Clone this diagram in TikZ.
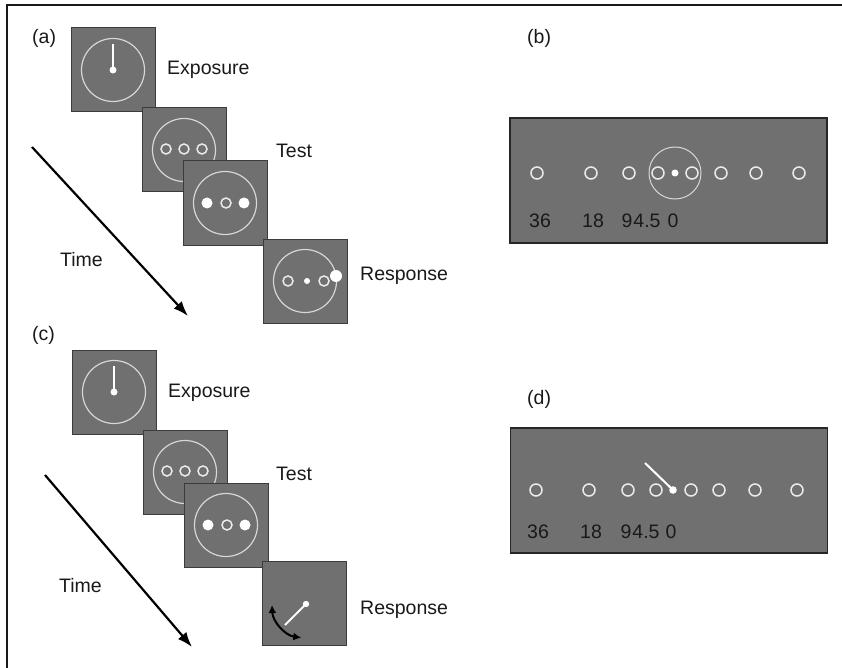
\documentclass[tikz,border=0pt]{standalone}
\usepackage{fontspec}
\setmainfont{Liberation Sans}
\usetikzlibrary{arrows.meta,calc}
\definecolor{scr}{RGB}{112,112,112}
\definecolor{scrborder}{RGB}{60,60,60}
\definecolor{ringc}{RGB}{215,215,215}
\definecolor{dotc}{RGB}{235,235,235}
\definecolor{framec}{RGB}{25,25,25}
\tikzset{
  screen/.style={fill=scr,draw=scrborder,line width=1pt,minimum size=84pt,inner sep=0pt,outer sep=0pt},
  wide/.style={fill=scr,draw=black!85,line width=1.6pt,minimum width=317pt,minimum height=125pt,inner sep=0pt},
  ring/.style={draw=ringc,line width=1.2pt},
  odot/.style={draw=dotc,line width=1.5pt},
  fdot/.style={fill=white},
  needle/.style={draw=white,line width=2pt},
  lbl/.style={font=\fontsize{19.5pt}{23pt}\selectfont,inner sep=0pt,anchor=base west,text=black!90},
  timearrow/.style={draw=black,line width=2.2pt,-{Latex[length=15pt,width=11pt]}},
  turnarrow/.style={draw=black,line width=2pt,{Latex[length=8pt,width=8pt]}-{Latex[length=8pt,width=8pt]}},
  framel/.style={draw=framec,line width=2.6pt}
}
\begin{document}
\begin{tikzpicture}[x=1pt,y=-1pt]
\useasboundingbox (0,0) rectangle (842,668);
% frame
\coordinate (f1) at (7,668);
\coordinate (f2) at (7,5);
\coordinate (f3) at (842,5);
\draw[framel] (f1) -- (f2) -- (f3);

% ---------- panel (a)
\node[lbl] (la) at (32,44) {(a)};
\node[screen] (a1) at (113,70) {};
\draw[ring] (a1.center) circle[radius=31.5pt];
\coordinate (a1n) at (113,44);
\draw[needle] (a1.center) -- (a1n);
\fill[fdot] (a1.center) circle[radius=3.5pt];
\node[lbl] (tEa) at (167,75) {Exposure};

\node[screen] (a2) at (184,150) {};
\draw[ring] (a2.center) circle[radius=31.5pt];
\foreach \d in {-18,0,18}{\draw[odot] ($(a2.center)+(\d,-1)$) circle[radius=5pt];}
\node[lbl] (tTa) at (276,158) {Test};

\node[screen] (a3) at (225,203) {};
\draw[ring] (a3.center) circle[radius=31.5pt];
\fill[fdot] ($(a3.center)+(-18,0)$) circle[radius=5.5pt];
\fill[fdot] ($(a3.center)+(19,0)$) circle[radius=5.5pt];
\draw[odot] ($(a3.center)+(1,0)$) circle[radius=5pt];

\node[screen] (a4) at (305,281) {};
\draw[ring] (a4.center) circle[radius=31.5pt];
\draw[odot] ($(a4.center)+(-17,0)$) circle[radius=5pt];
\draw[odot] ($(a4.center)+(19,0)$) circle[radius=5pt];
\fill[fdot] ($(a4.center)+(2,0)$) circle[radius=3pt];
\fill[fdot] ($(a4.center)+(31,-5)$) circle[radius=6pt];
\node[lbl] (tRa) at (360,280) {Response};

\coordinate (ta1) at (32,147);
\coordinate (ta2) at (188,316);
\draw[timearrow] (ta1) -- (ta2);
\node[lbl] (tTimea) at (60,266) {Time};

% ---------- panel (c)
\node[lbl] (lc) at (32,340) {(c)};
\node[screen] (c1) at (114,392) {};
\draw[ring] (c1.center) circle[radius=31.5pt];
\coordinate (c1n) at (114,366);
\draw[needle] (c1.center) -- (c1n);
\fill[fdot] (c1.center) circle[radius=3.5pt];
\node[lbl] (tEc) at (168,397) {Exposure};

\node[screen] (c2) at (185,472) {};
\draw[ring] (c2.center) circle[radius=31.5pt];
\foreach \d in {-18,0,18}{\draw[odot] ($(c2.center)+(\d,-1)$) circle[radius=5pt];}
\node[lbl] (tTc) at (276,480) {Test};

\node[screen] (c3) at (226,525) {};
\draw[ring] (c3.center) circle[radius=31.5pt];
\fill[fdot] ($(c3.center)+(-18,0)$) circle[radius=5.5pt];
\fill[fdot] ($(c3.center)+(19,0)$) circle[radius=5.5pt];
\draw[odot] ($(c3.center)+(1,0)$) circle[radius=5pt];

\node[screen] (c4) at (304,603) {};
\coordinate (cp) at (306,604);
\coordinate (cpe) at (285,625);
\draw[needle] (cp) -- (cpe);
\fill[fdot] (cp) circle[radius=3.2pt];
\coordinate (r1) at (272,605);
\coordinate (r2) at (301.3,637.7);
\coordinate (rc1) at (272.6,621.5);
\coordinate (rc2) at (285,635.4);
\draw[turnarrow] (r1) .. controls (rc1) and (rc2) .. (r2);
\node[lbl] (tRc) at (360,614) {Response};

\coordinate (tc1) at (45,475);
\coordinate (tc2) at (192,647);
\draw[timearrow] (tc1) -- (tc2);
\node[lbl] (tTimec) at (59,592) {Time};

% ---------- panel (b)
\node[lbl] (lb) at (527,44) {(b)};
\node[wide] (pb) at (668.5,180.5) {};
\foreach \x in {537,591,629,658,692,721,756,799}{\draw[odot] (\x,173) circle[radius=6pt];}
\draw[ring,line width=1pt] (675,173) circle[radius=26pt];
\fill[fdot] (675,173) circle[radius=3.5pt];
\node[lbl,anchor=base] (b36) at (540,228) {36};
\node[lbl,anchor=base] (b18) at (593,228) {18};
\node[lbl,anchor=base] (b9) at (627,228) {9};
\node[lbl,anchor=base] (b45) at (647,228) {4.5};
\node[lbl,anchor=base] (b0) at (673,228) {0};

% ---------- panel (d)
\node[lbl] (ld) at (527,404) {(d)};
\node[wide] (pd) at (669,490.5) {};
\foreach \x in {536,589,628,656,691,719,755,797}{\draw[odot] (\x,490) circle[radius=6pt];}
\coordinate (dp) at (673,490);
\coordinate (dn) at (645,463);
\draw[needle] (dp) -- (dn);
\fill[fdot] (dp) circle[radius=3.8pt];
\node[lbl,anchor=base] (d36) at (538,538) {36};
\node[lbl,anchor=base] (d18) at (591,538) {18};
\node[lbl,anchor=base] (d9) at (626,538) {9};
\node[lbl,anchor=base] (d45) at (646,538) {4.5};
\node[lbl,anchor=base] (d0) at (671,538) {0};
\end{tikzpicture}
\end{document}
